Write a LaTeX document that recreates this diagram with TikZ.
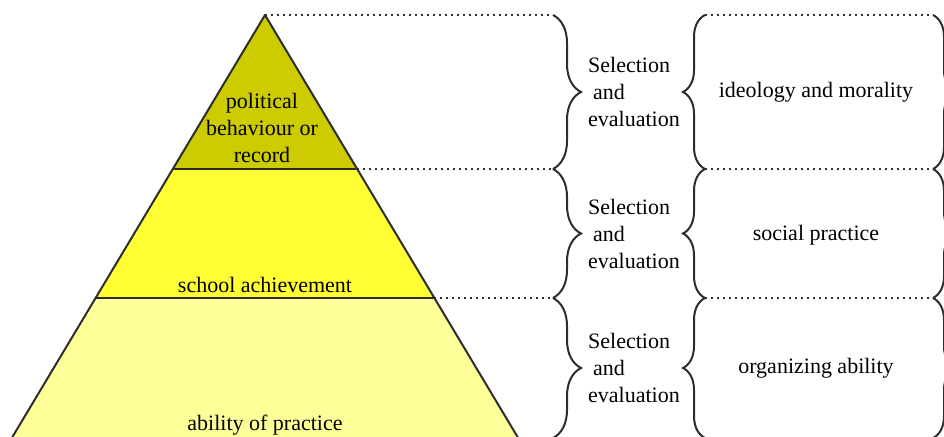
\documentclass[tikz,border=0pt]{standalone}
\usepackage{fontspec}
\setmainfont{Liberation Serif}
\newfontfamily\timesfont{Liberation Serif}
\usetikzlibrary{decorations.pathreplacing}

\definecolor{toplayer}{RGB}{204,204,0}
\definecolor{midlayer}{RGB}{255,255,51}
\definecolor{lowlayer}{RGB}{255,255,153}
\definecolor{inkgray}{RGB}{45,45,45}

\tikzset{
  layer/.style={draw=inkgray,line width=2pt,line join=round},
  dotline/.style={draw=inkgray,line width=2pt,dash pattern=on 2pt off 4pt},
  curly/.style={draw=inkgray,line width=2pt,decorate,decoration={brace,amplitude=#1}},
  label/.style={font=\timesfont\fontsize{22}{27}\selectfont,inner sep=0pt,align=center}
}

\begin{document}
\begin{tikzpicture}[x=1pt,y=-1pt]
      \useasboundingbox (0,0) rectangle (944,436);
      \clip (0,0) rectangle (944,436);
      % pyramid corners
      \coordinate (apex) at (265,15);
      \coordinate (l1) at (173,169);
      \coordinate (r1) at (357,169);
      \coordinate (l2) at (96,298);
      \coordinate (r2) at (434,298);
      \coordinate (l3) at (7,446);
      \coordinate (r3) at (523,446);
      \fill[lowlayer] (l2) -- (r2) -- (r3) -- (l3) -- cycle;
      \fill[midlayer] (l1) -- (r1) -- (r2) -- (l2) -- cycle;
      \fill[toplayer] (apex) -- (r1) -- (l1) -- cycle;
      \draw[layer] (l3) -- (apex) -- (r3);
      \draw[layer] (l1) -- (r1);
      \draw[layer] (l2) -- (r2);
      \node[label] (political) at (262,128) {political\\behaviour or\\record};
      \node[label] (school) at (265,285) {school achievement};
      \node[label] (practice) at (265,425) {ability of practice};
      % brace ends
      \coordinate (a0) at (553,15);
      \coordinate (a1) at (553,169);
      \coordinate (a2) at (553,298);
      \coordinate (a3) at (553,438);
      \coordinate (b0) at (705,15);
      \coordinate (b1) at (705,169);
      \coordinate (b2) at (705,298);
      \coordinate (b3) at (705,438);
      \coordinate (c0) at (933,15);
      \coordinate (c1) at (933,169);
      \coordinate (c2) at (933,298);
      \coordinate (c3) at (933,438);
      \draw[dotline] (apex) -- (a0);
      \draw[dotline] (r1) -- (a1);
      \draw[dotline] (r2) -- (a2);
      \foreach \i in {0,1,2} {
        \draw[dotline] (b\i) -- (c\i);
      }
      \draw[curly=28pt] (a0) -- (a1);
      \draw[curly=28pt] (a1) -- (a2);
      \draw[curly=28pt] (a2) -- (a3);
      \draw[curly=22pt] (b1) -- (b0);
      \draw[curly=22pt] (b2) -- (b1);
      \draw[curly=22pt] (b3) -- (b2);
      \draw[curly=22pt] (c0) -- (c1);
      \draw[curly=22pt] (c1) -- (c2);
      \draw[curly=22pt] (c2) -- (c3);
      \node[label,align=left] (select1) at (634,92) {Selection\\\hspace*{5pt}and\\evaluation};
      \node[label,align=left] (select2) at (634,234) {Selection\\\hspace*{5pt}and\\evaluation};
      \node[label,align=left] (select3) at (634,368) {Selection\\\hspace*{5pt}and\\evaluation};
      \node[label] (moral) at (816,92) {ideology and morality};
      \node[label] (social) at (816,235) {social practice};
      \node[label] (organize) at (816,368) {organizing ability};
    \end{tikzpicture}
\end{document}
